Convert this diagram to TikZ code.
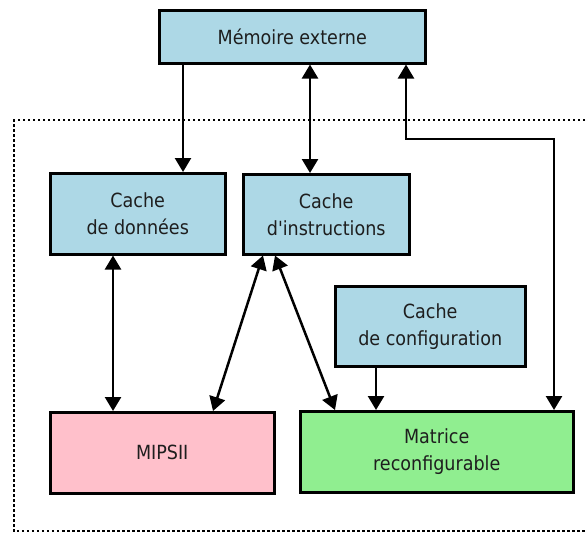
\documentclass[tikz,border=0pt]{standalone}
\usepackage{fontspec}
\setmainfont{DejaVu Sans Condensed}
\usetikzlibrary{arrows.meta}

\definecolor{cacheblue}{HTML}{ADD8E6}
\definecolor{cpupink}{HTML}{FFC0CB}
\definecolor{fabricgreen}{HTML}{90EE90}
\definecolor{inktext}{HTML}{1E1E1E}

\tikzset{
  unit/.style={draw=black, line width=2.5pt, anchor=north west, align=center,
    inner sep=0pt, text=inktext, font=\fontsize{19.5}{27}\selectfont},
  cachebox/.style={unit, fill=cacheblue},
  link/.style={line width=2.5pt, -{Triangle[length=14pt,width=16pt]}},
  duplex/.style={line width=2.5pt, {Triangle[length=14pt,width=16pt]}-{Triangle[length=14pt,width=16pt]}},
  chipframe/.style={line width=2.5pt, dash pattern=on 2.5pt off 2.5pt}
}

\begin{document}
\begin{tikzpicture}[x=1pt, y=-1pt]
  \useasboundingbox (0,0) rectangle (586,533);

  % chip boundary (runs off the right edge)
  \draw[chipframe] (590,120) -- (14,120) -- (14,531) -- (590,531);

  % memory and caches
  \node[cachebox, minimum width=266pt, minimum height=53pt] (mem) at (158,9) {Mémoire externe};
  \node[cachebox, minimum width=175pt, minimum height=81pt] (cd) at (49,172) {Cache\\de données};
  \node[cachebox, minimum width=166pt, minimum height=80pt] (ci) at (242,173) {Cache\\d\textquotesingle instructions};
  \node[cachebox, minimum width=190pt, minimum height=80pt] (cc) at (334,285) {Cache\\de configuration};

  % processing units
  \node[unit, fill=cpupink, minimum width=224pt, minimum height=81pt] (mips) at (49,411) {MIPSII};
  \node[unit, fill=fabricgreen, minimum width=273pt, minimum height=81pt] (mat) at (299,410) {Matrice\\reconfigurable};

  % connections
  \draw[link] ([xshift=25pt]mem.south west) -- ([xshift=134pt]cd.north west);
  \draw[duplex] ([xshift=152pt]mem.south west) -- ([xshift=68pt]ci.north west);
  \draw[duplex] ([xshift=64pt]cd.south west) -- ([xshift=64pt]mips.north west);
  \draw[duplex] ([xshift=21pt]ci.south west) -- ([xshift=164pt]mips.north west);
  \draw[duplex] ([xshift=33pt]ci.south west) -- ([xshift=36pt]mat.north west);
  \draw[link] ([xshift=42pt]cc.south west) -- ([xshift=77pt]mat.north west);

  \coordinate (bend) at (554,139);
  \draw[duplex] ([xshift=248pt]mem.south west) |- (bend) -- ([xshift=255pt]mat.north west);
\end{tikzpicture}
\end{document}
